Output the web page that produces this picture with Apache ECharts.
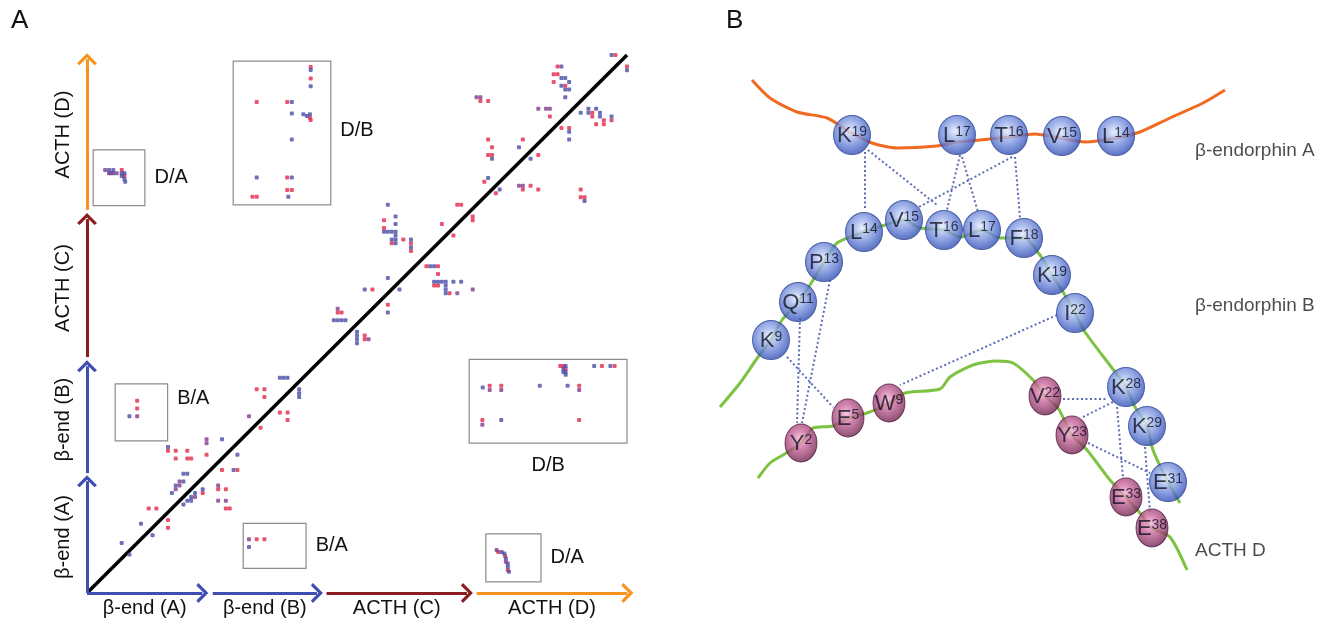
<!DOCTYPE html>
<html>
<head>
<meta charset="utf-8">
<script src="https://cdn.jsdelivr.net/npm/echarts@6/dist/echarts.min.js"></script>
<style>
  html, body { margin: 0; background: #fff; }
  #chart { width: 1339px; height: 622px; }
</style>
</head>
<body>
<div id="chart"></div>
<script>
const FONT = "Liberation Sans, Arial, sans-serif";

// ---- panel A: contact map, residue index along the concatenated chains ----
const segmentNames = ["β-end (A)", "β-end (B)", "ACTH (C)", "ACTH (D)"];
const xArrowFrom = [0, 32.6, 62.1, 101.0];
const xArrowTo = [29.9, 59.6, 98.5, 140.1];
const yArrowFrom = [0, 31.2, 61.4, 99.7];
const yArrowTo = [29.1, 59.0, 97.3, 138.9];
const diagonal = [0, 140];

// contacts near the diagonal
const redContacts = [
  [44,53],[46,53],[46,51],[50,47],[52,47],[52,45],[45,43],[21,37],[23,37],[26,37],[23,35],[26,35],[27,35],
  [31,36],[35,32],[39,32],[34,27],[36,27],[30,26],[36,22],[37,22],[16,22],[18,22],[21,19],[21,17],
  [77,97],[77,95],[79,91],[82,92],[84,91],[84,89],[96,101],[97,101],[100,98],[100,97],[92,96],[95,93],
  [88,85],[91,85],[91,83],[90,80],[91,80],[94,78],[74,79],[78,75],[66,73],[65,73],[72,67],[72,66],
  [137,140],[140,137],[122,137],[121,135],[122,135],[121,133],[124,132],[102,128],[104,128],[120,124],
  [131,125],[131,124],[132,122],[134,123],[134,122],[136,123],[123,121],[125,121],[104,118],[105,116],
  [104,114],[105,114],[113,118],[117,114],[103,107],[106,104],[113,105],[115,106],[117,105],[128,105],
  [128,103],[129,103],
];
const blueContacts = [
  [50,56],[51,56],[52,56],[55,53],[55,52],[55,51],[35,40],[21,38],[39,36],[25,31],[26,31],[25,29],[23,28],
  [22,26],[38,32],[30,27],[28,26],[27,25],[27,24],[26,24],[25,23],[14,18],[17,15],[9,13],[11,10],
  [78,101],[80,98],[80,96],[77,94],[78,94],[79,94],[80,94],[80,93],[79,92],[80,92],[80,91],[84,92],[84,90],
  [89,85],[90,85],[90,81],[91,81],[92,81],[93,81],[95,81],[97,81],[93,80],[93,79],[93,78],[78,82],[72,79],
  [81,79],[78,73],[64,71],[65,71],[66,71],[67,71],[70,68],[70,67],[70,66],[70,65],
  [136,140],[140,136],[123,137],[123,134],[124,134],[125,133],[123,132],[124,131],[125,131],[124,129],
  [128,125],[130,126],[130,125],[132,126],[133,125],[133,124],[136,124],[125,120],[125,118],[105,113],
  [112,116],[115,113],[104,108],[107,105],[129,102],
];
const purpleContacts = [
  [42,46],[31,40],[31,39],[24,29],[24,28],[23,27],[34,28],[28,25],[34,24],[36,24],
  [96,78],[100,79],[65,74],[73,66],
  [101,129],[102,129],[117,126],[119,126],[120,126],[112,106],[113,106],
];

// inset panels (zoomed copies of inter-chain contacts)
const insetRed = [
  [13,50],[13,48],[44,14],[46,14],
  [9.0,110.1],[9.7,108.5],
  [58,136.9],[58,133.9],[44,127.8],[51.9,127.8],[57.8,123.7],[58,123.1],[51.9,108.1],[51.9,104.9],
  [53.1,104.9],[42.9,103.1],[44,103.1],
  [122.7,59.1],[123.5,59.1],[124.1,58.3],[133.5,59.1],[136.8,59.1],[127.6,45.0],[104.4,53.9],
  [107.4,53.9],[127.6,53.9],[102.5,45.0],
  [106.6,10.7],[108.4,9.6],[109.1,6.0],
];
const insetBlue = [
  [11,46],[42,12],
  [5.7,110.1],[6.8,110.1],[5.7,109.2],[6.8,109.2],[9.0,109.2],[9.7,109.2],[9.0,108.5],[9.7,107.7],[9.9,107.0],
  [58,136.1],[58,131.9],[53.1,127.8],[53.1,124.8],[56.1,124.6],[57,124.1],[57.8,124.6],[53.1,118],
  [44,108.1],[53.1,108.1],[52.2,103.1],
  [124.1,59.1],[123.5,58.3],[123.5,57.5],[124.1,57.5],[124.1,56.8],[131.5,59.1],[135.7,59.1],
  [102.6,53.5],[117.4,53.9],[124.6,53.9],[107.4,45.0],
  [107.5,10.7],[108.2,10.3],[108.6,9.0],[109.1,7.7],[109.1,6.8],[109.4,5.5],
];
const insetPurple = [
  [13,46],[42,14],
  [4.7,110.1],[6.2,109.2],[7.7,109.2],
  [104.4,52.8],[107.4,52.8],[127.6,52.8],[102.5,43.8],
  [106.2,11.2],[108.6,8.1],
];
const insetNames = ["D/A", "D/B", "B/A", "B/A", "D/B", "D/A"];
const insetX = [[1.6,15.0],[37.9,63.2],[7.3,20.9],[40.5,56.8],[99.1,140.0],[103.4,117.7]];
const insetY = [[100.8,115.3],[101.0,138.4],[39.6,54.4],[6.4,18.1],[39.0,60.8],[2.9,15.4]];

// ---- panel B: schematic of the contacts between chains ----
const blueResidues = [
  ["K","19",152,75],["L","17",257,75],["T","16",309,75],["V","15",362,76],["L","14",416,76],
  ["L","14",164,172],["V","15",204,160],["T","16",244,170],["L","17",282,170],["F","18",324,178],
  ["P","13",124,202],["Q","11",98,242],["K","9",71,280],["K","19",352,215],["I","22",375,253],
  ["K","28",426,327],["K","29",447,366],["E","31",468,422],
];
const pinkResidues = [
  ["Y","2",101,383],["E","5",148,358],["W","9",189,343],["V","22",345,336],
  ["Y","23",372,375],["E","33",426,437],["E","38",452,468],
];
const chainA = [
  [52,20],[70,38],[97,52],[127,58],[150,72],[172,83],[197,88],[237,86],[257,82],[280,80],
  [309,77],[335,74],[360,78],[385,82],[416,78],[440,72],[470,58],[503,43],[525,30],
];
const chainB = [
  [20,347],[40,323],[58,297],[71,280],[82,260],[98,242],[110,225],[124,202],[137,183],[164,172],
  [185,165],[204,160],[220,168],[244,170],[260,177],[282,170],[300,178],[324,178],[340,195],
  [352,215],[363,232],[375,253],[385,272],[412,308],[426,327],[435,347],[447,366],[453,390],
  [468,422],[480,443],
];
const chainD = [
  [58,418],[70,403],[83,395],[101,383],[113,368],[133,366],[148,358],[167,353],[189,343],[205,333],
  [240,329],[250,317],[273,305],[297,301],[313,303],[333,320],[345,336],[358,348],[372,375],
  [387,390],[410,420],[426,437],[440,453],[452,468],[470,477],[487,510],
];
const contacts = [
  [165,92,165,150],[168,90,237,145],[260,95,247,150],[262,97,278,152],[312,97,217,148],[315,97,320,158],
  [130,220,102,363],[100,258,97,363],[87,297,133,347],[357,255,200,325],
  [363,339,408,339],[383,357,413,342],[388,383,450,413],[417,347,423,418],[445,387,450,452],
];
const chainLabels = ["β-endorphin A", "β-endorphin B", "ACTH D"];
const chainLabelPos = [[495,91],[495,246],[495,491]];

const segmentColors = ["#3e4eb1", "#3e4eb1", "#8b1d22", "#f7921e"];
const CHEVRON = "path://M0,10 L10,0 L20,10 L17.5,12 L10,4.5 L2.5,12 Z";

function arrowSeries(i, horizontal) {
  const from = horizontal ? xArrowFrom[i] : yArrowFrom[i];
  const to = horizontal ? xArrowTo[i] : yArrowTo[i];
  return {
    type: "line",
    xAxisIndex: 0,
    yAxisIndex: 0,
    data: [],
    clip: false,
    silent: true,
    markLine: {
      silent: true,
      symbol: ["none", CHEVRON],
      symbolSize: [20, 12],
      lineStyle: { color: segmentColors[i], width: 3, type: "solid" },
      label: {
        show: true,
        formatter: segmentNames[i],
        position: horizontal ? "insideMiddleBottom" : "insideMiddleTop",
        distance: horizontal ? 5 : 14,
        color: "#111",
        fontSize: 20,
        fontFamily: FONT,
      },
      emphasis: { disabled: true },
      data: [[{ coord: horizontal ? [from, 0] : [0, from] }, { coord: horizontal ? [to, 0] : [0, to] }]],
    },
  };
}

function dots(data, color) {
  return {
    type: "scatter",
    xAxisIndex: 0,
    yAxisIndex: 0,
    symbol: "roundRect",
    symbolSize: 4,
    itemStyle: { color },
    silent: true,
    z: 4,
    data,
  };
}

function residueSeries(list, size, stops, border) {
  return {
    type: "scatter",
    xAxisIndex: 1,
    yAxisIndex: 1,
    symbol: "circle",
    symbolSize: size,
    silent: true,
    z: 5,
    itemStyle: {
      color: { type: "radial", x: 0.45, y: 0.4, r: 0.62, colorStops: stops },
      borderColor: border,
      borderWidth: 1,
    },
    label: {
      show: true,
      position: "inside",
      offset: [0, 1],
      formatter: (p) => `{a|${p.data.letter}}{b|${p.data.num}}`,
      rich: {
        a: { fontSize: 22, color: "#121226", fontFamily: FONT },
        b: { fontSize: 14, color: "#121226", fontFamily: FONT, verticalAlign: "top", padding: [0, 0, 7, 0] },
      },
    },
    data: list.map((r) => ({ value: [r[2], r[3]], letter: r[0], num: r[1] })),
  };
}

function chainSeries(data, color) {
  return {
    type: "line",
    xAxisIndex: 1,
    yAxisIndex: 1,
    data,
    smooth: 0.25,
    symbol: "none",
    silent: true,
    z: 3,
    lineStyle: { color, width: 3 },
  };
}

const chart = echarts.init(document.getElementById("chart"));

chart.setOption({
  animation: false,
  title: [
    { text: "A", left: 11, top: 8, padding: 0, textStyle: { fontSize: 26, fontWeight: "normal", fontFamily: FONT, color: "#111" } },
    { text: "B", left: 726, top: 8, padding: 0, textStyle: { fontSize: 26, fontWeight: "normal", fontFamily: FONT, color: "#111" } },
  ],
  grid: [
    { left: 87, top: 55, width: 547.7, height: 538 },
    { left: 700, top: 60, width: 560, height: 540 },
  ],
  xAxis: [
    { gridIndex: 0, type: "value", min: 0, max: 142, show: false },
    { gridIndex: 1, type: "value", min: 0, max: 560, show: false },
  ],
  yAxis: [
    { gridIndex: 0, type: "value", min: 0, max: 140, show: false },
    { gridIndex: 1, type: "value", min: 0, max: 540, inverse: true, show: false },
  ],
  series: [
    ...segmentNames.map((_, i) => arrowSeries(i, true)),
    ...segmentNames.map((_, i) => arrowSeries(i, false)),
    {
      type: "line",
      xAxisIndex: 0,
      yAxisIndex: 0,
      data: [[diagonal[0], diagonal[0]], [diagonal[1], diagonal[1]]],
      symbol: "none",
      silent: true,
      z: 3,
      lineStyle: { color: "#000", width: 3.5 },
    },
    {
      type: "scatter",
      xAxisIndex: 0,
      yAxisIndex: 0,
      data: [],
      silent: true,
      markArea: {
        silent: true,
        itemStyle: { color: "rgba(0,0,0,0)", borderColor: "#8c8c8c", borderWidth: 1.2 },
        label: { color: "#111", fontSize: 20, fontFamily: FONT, position: "right", distance: 9 },
        data: insetNames.map((name, i) => [
          {
            name,
            coord: [insetX[i][0], insetY[i][0]],
            label: i === 4 ? { position: "bottom", distance: 12 } : i === 2 ? { offset: [0, -14] } : i === 1 ? { offset: [0, -3] } : {},
          },
          { coord: [insetX[i][1], insetY[i][1]] },
        ]),
      },
    },
    dots(redContacts.concat(insetRed), "#e2284a"),
    dots(blueContacts.concat(insetBlue), "#4a4ca6"),
    dots(purpleContacts.concat(insetPurple), "#833a8c"),

    {
      type: "lines",
      coordinateSystem: "cartesian2d",
      xAxisIndex: 1,
      yAxisIndex: 1,
      silent: true,
      z: 2,
      lineStyle: { color: "#5b6db5", width: 2, type: [2, 2.5], opacity: 1 },
      data: contacts.map((c) => ({ coords: [[c[0], c[1]], [c[2], c[3]]] })),
    },
    chainSeries(chainA, "#f06a22"),
    chainSeries(chainB, "#7dc241"),
    chainSeries(chainD, "#7dc241"),
    residueSeries(blueResidues, [37, 39], [
      { offset: 0, color: "#e4ebfc" },
      { offset: 0.35, color: "#98aeea" },
      { offset: 0.8, color: "#4a66c6" },
      { offset: 1, color: "#2f49a4" },
    ], "#2e4598"),
    residueSeries(pinkResidues, [32, 38], [
      { offset: 0, color: "#f6b6d5" },
      { offset: 0.4, color: "#c8669a" },
      { offset: 0.85, color: "#82325f" },
      { offset: 1, color: "#5c1e44" },
    ], "#561c40"),
    {
      type: "scatter",
      xAxisIndex: 1,
      yAxisIndex: 1,
      symbolSize: 0,
      silent: true,
      label: {
        show: true,
        position: "right",
        distance: 0,
        formatter: (p) => chainLabels[p.dataIndex],
        color: "#1e1e1e",
        fontSize: 19,
        fontFamily: FONT,
      },
      data: chainLabelPos,
    },
  ],
});
</script>
</body>
</html>
